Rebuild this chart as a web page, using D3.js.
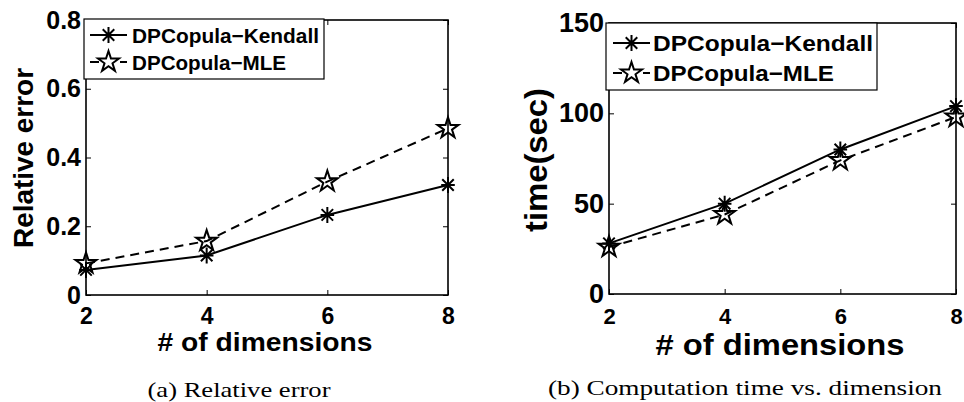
<!DOCTYPE html>
<html>
<head>
<meta charset="utf-8">
<script src="https://cdn.jsdelivr.net/npm/d3@7"></script>
<style>
  body { margin: 0; background: #fff; }
  svg { display: block; }
  .tick text { font-family: "Liberation Sans", Arial, sans-serif; font-weight: bold; fill: #000; }
  .lbl { font-family: "Liberation Sans", Arial, sans-serif; font-weight: bold; fill: #000; }
  .cap { font-family: "Liberation Serif", "DejaVu Serif", serif; fill: #000; }
</style>
</head>
<body>
<svg id="fig" width="964" height="402"></svg>
<script>
// data
var dims = [2, 4, 6, 8];
var errTicks = [0, 0.2, 0.4, 0.6, 0.8];
var timeTicks = [0, 50, 100, 150];
var errKendall = [0.073, 0.115, 0.233, 0.32];
var errMLE = [0.092, 0.157, 0.33, 0.485];
var timeKendall = [28, 50, 80, 104];
var timeMLE = [26, 44, 74, 98];
var seriesNames = ["DPCopula\u2212Kendall", "DPCopula\u2212MLE"];

var svg = d3.select("#fig");

// matlab-ish markers as d3 symbol types (size = radius^2)
var asterisk = {
	draw: function(ctx, size) {
		var r = Math.sqrt(size), d = r * 0.72;
		ctx.moveTo(0, -r); ctx.lineTo(0, r);
		ctx.moveTo(-r * 0.85, 0); ctx.lineTo(r * 0.85, 0);
		ctx.moveTo(-d, -d); ctx.lineTo(d, d);
		ctx.moveTo(-d, d); ctx.lineTo(d, -d);
	}
};
var pentagram = {
	draw: function(ctx, size) {
		var r = Math.sqrt(size), ri = r * 0.382;
		for (var k = 0; k < 10; k++) {
			var rr = k % 2 ? ri : r;
			var a = -Math.PI / 2 + k * Math.PI / 5;
			if (k == 0) ctx.moveTo(rr * Math.cos(a), rr * Math.sin(a));
			else ctx.lineTo(rr * Math.cos(a), rr * Math.sin(a));
		}
		ctx.closePath();
	}
};

var styles = [
	{ dash: null, symbol: d3.symbol().type(asterisk).size(64) },
	{ dash: "9,6", symbol: d3.symbol().type(pentagram).size(121) }
];

function drawPanel(p) {
	var g = svg.append("g");

	var x = d3.scaleLinear().domain([2, 8]).range([p.x0, p.x1]);
	var y = d3.scaleLinear().domain([0, p.ymax]).range([p.y1, p.y0]);

	// axes on all four sides, ticks pointing inward
	var bottom = g.append("g")
		.attr("transform", "translate(0," + p.y1 + ")")
		.call(d3.axisBottom(x).tickValues(dims).tickSize(-5).tickPadding(p.xpad).tickFormat(d3.format("d")));
	var top = g.append("g")
		.attr("transform", "translate(0," + p.y0 + ")")
		.call(d3.axisTop(x).tickValues(dims).tickSize(-5).tickFormat(""));
	var left = g.append("g")
		.attr("transform", "translate(" + p.x0 + ",0)")
		.call(d3.axisLeft(y).tickValues(p.yticks).tickSize(-5).tickPadding(5).tickFormat(p.yfmt));
	var right = g.append("g")
		.attr("transform", "translate(" + p.x1 + ",0)")
		.call(d3.axisRight(y).tickValues(p.yticks).tickSize(-5).tickFormat(""));

	[bottom, top, left, right].forEach(function(a) {
		a.select(".domain").remove();
		a.selectAll(".tick line").attr("stroke", "#000").attr("stroke-width", 1);
	});
	bottom.selectAll(".tick text").style("font-size", p.xfs + "px");
	left.selectAll(".tick text").style("font-size", p.yfs + "px");

	g.append("rect")
		.attr("x", p.x0).attr("y", p.y0)
		.attr("width", p.x1 - p.x0).attr("height", p.y1 - p.y0)
		.attr("fill", "none").attr("stroke", "#000").attr("stroke-width", 1.6);

	var line = d3.line()
		.x(function(d, i) { return x(dims[i]); })
		.y(function(d) { return y(d); });

	p.series.forEach(function(vals, s) {
		g.append("path")
			.attr("d", line(vals))
			.attr("fill", "none")
			.attr("stroke", "#000")
			.attr("stroke-width", 2)
			.attr("stroke-dasharray", styles[s].dash);
		g.selectAll(null).data(vals).enter().append("path")
			.attr("transform", function(d, i) { return "translate(" + x(dims[i]) + "," + y(d) + ")"; })
			.attr("d", styles[s].symbol())
			.attr("fill", "none")
			.attr("stroke", "#000")
			.attr("stroke-width", 2);
	});

	// legend
	var L = p.legend;
	g.append("rect")
		.attr("x", L.x).attr("y", L.y).attr("width", L.w).attr("height", L.h)
		.attr("fill", "#fff").attr("stroke", "#000").attr("stroke-width", 1.2);
	seriesNames.forEach(function(name, s) {
		var ry = L.rows[s];
		g.append("line")
			.attr("x1", L.lx0).attr("x2", L.lx1).attr("y1", ry).attr("y2", ry)
			.attr("stroke", "#000").attr("stroke-width", 2)
			.attr("stroke-dasharray", styles[s].dash);
		g.append("path")
			.attr("transform", "translate(" + (L.lx0 + L.lx1) / 2 + "," + ry + ")")
			.attr("d", styles[s].symbol())
			.attr("fill", "#fff").attr("stroke", "#000").attr("stroke-width", 2);
		g.append("text")
			.attr("class", "lbl")
			.attr("x", L.tx).attr("y", ry)
			.attr("dy", "0.36em")
			.style("font-size", L.fs + "px")
			.attr("textLength", L.tw[s])
			.attr("lengthAdjust", "spacingAndGlyphs")
			.text(name);
	});

	// axis titles
	g.append("text")
		.attr("class", "lbl")
		.attr("text-anchor", "middle")
		.attr("x", p.xlab.x).attr("y", p.xlab.y)
		.style("font-size", p.xlab.fs + "px")
		.attr("textLength", p.xlab.w).attr("lengthAdjust", "spacingAndGlyphs")
		.text("# of dimensions");
	g.append("text")
		.attr("class", "lbl")
		.attr("text-anchor", "middle")
		.attr("transform", "translate(" + p.ylab.x + "," + p.ylab.y + ") rotate(-90)")
		.style("font-size", p.ylab.fs + "px")
		.attr("textLength", p.ylab.w).attr("lengthAdjust", "spacingAndGlyphs")
		.text(p.ylab.text);

	// caption
	g.append("text")
		.attr("class", "cap")
		.attr("text-anchor", "middle")
		.attr("x", p.cap.x).attr("y", p.cap.y)
		.style("font-size", "21px")
		.attr("textLength", p.cap.w).attr("lengthAdjust", "spacingAndGlyphs")
		.text(p.cap.text);
}

drawPanel({
	x0: 86, x1: 448, y0: 20, y1: 295,
	ymax: 0.8, yticks: errTicks,
	yfmt: function(d) { return d === 0 ? "0" : d3.format(".1f")(d); },
	xpad: 13, xfs: 23, yfs: 25,
	series: [errKendall, errMLE],
	legend: { x: 84, y: 19, w: 240, h: 60, rows: [35, 62], lx0: 90, lx1: 127, tx: 132, fs: 21, tw: [187, 154] },
	xlab: { x: 265, y: 351, fs: 26, w: 215 },
	ylab: { x: 33, y: 158, fs: 28, w: 180, text: "Relative error" },
	cap: { x: 239, y: 397, w: 183, text: "(a) Relative error" }
});

drawPanel({
	x0: 609, x1: 956, y0: 23, y1: 294,
	ymax: 150, yticks: timeTicks,
	yfmt: d3.format("d"),
	xpad: 14, xfs: 22, yfs: 27,
	series: [timeKendall, timeMLE],
	legend: { x: 606, y: 23, w: 271, h: 67, rows: [43, 73], lx0: 613, lx1: 650, tx: 653, fs: 22, tw: [220, 181] },
	xlab: { x: 780, y: 355, fs: 30, w: 249 },
	ylab: { x: 547, y: 160, fs: 32, w: 144, text: "time(sec)" },
	cap: { x: 745, y: 395, w: 394, text: "(b) Computation time vs. dimension" }
});
</script>
</body>
</html>
